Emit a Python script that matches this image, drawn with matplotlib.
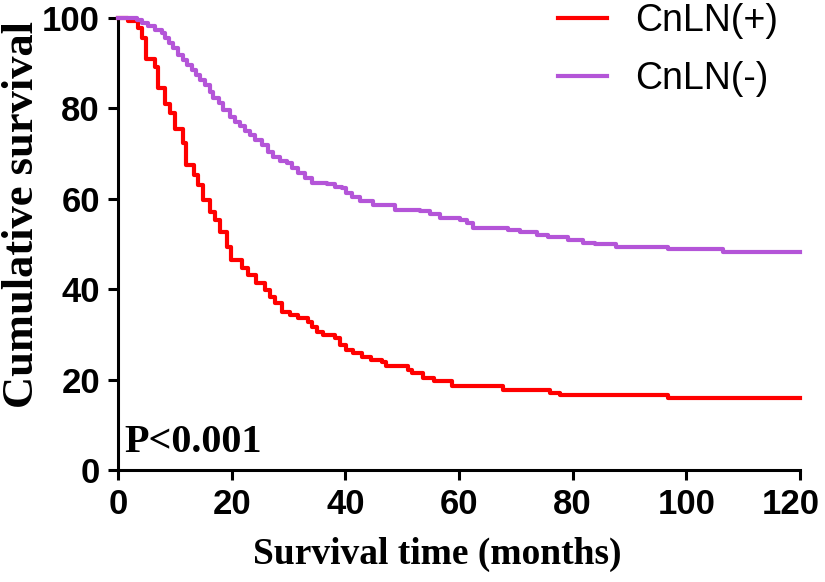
import numpy as np
import matplotlib
matplotlib.use('Agg')
import matplotlib.pyplot as plt
import matplotlib.transforms as mtransforms

# survival curves (months, % surviving)
pos_time = [0, 1.8, 3.5, 4.2, 5.0, 6.5, 7.1, 8.3, 9.2, 10.0,
            11.5, 12.0, 13.3, 14.1, 15.0, 16.1, 17.1, 17.9, 19.1, 19.8,
            21.8, 22.9, 24.2, 25.9, 26.7, 27.6, 28.8, 30.3, 31.7, 33.5,
            34.1, 35.0, 36.1, 38.2, 39.1, 40.2, 41.4, 42.9, 44.6, 46.4,
            47.2, 51.0, 51.8, 53.7, 55.6, 58.7, 67.8, 76.0, 77.8, 96.8,
            120]
pos_surv = [100, 99.3, 97.8, 95.5, 91.0, 89.2, 84.5, 81.0, 79.0, 75.5,
            72.3, 67.5, 65.3, 63.0, 59.7, 57.1, 55.3, 52.7, 49.4, 46.5,
            44.6, 43.1, 41.3, 39.8, 38.3, 36.9, 35.0, 34.3, 33.6, 32.8,
            31.7, 30.6, 29.9, 29.1, 27.7, 26.6, 25.8, 25.1, 24.4, 24.0,
            22.9, 22.1, 21.4, 20.4, 19.6, 18.6, 17.8, 17.1, 16.6, 15.9,
            15.9]

neg_time = [0, 3.3, 4.2, 5.3, 6.5, 7.7, 8.3, 8.9, 9.7, 10.6,
            11.5, 12.1, 13.0, 13.8, 14.4, 15.3, 16.2, 16.8, 17.7, 18.5,
            19.7, 20.6, 21.5, 22.3, 23.2, 24.1, 25.3, 26.4, 27.3, 28.5,
            29.7, 30.6, 31.7, 32.9, 34.1, 36.7, 38.2, 39.4, 40.2, 41.1,
            42.6, 44.9, 48.7, 53.1, 54.9, 56.7, 60.2, 61.4, 62.5, 68.7,
            70.7, 73.7, 75.7, 79.2, 81.9, 83.9, 87.7, 96.8, 106.5, 120]
neg_surv = [100, 99.6, 98.8, 98.2, 97.3, 96.6, 95.5, 94.4, 93.3, 91.8,
            90.7, 89.6, 88.5, 87.4, 86.3, 85.2, 83.7, 82.2, 81.1, 79.6,
            78.2, 77.1, 76.0, 75.1, 74.1, 73.0, 71.9, 70.4, 69.2, 68.4,
            67.9, 66.9, 65.6, 64.5, 63.6, 63.3, 62.7, 62.3, 61.2, 60.3,
            59.6, 58.6, 57.5, 57.2, 56.6, 55.8, 55.3, 54.6, 53.6, 53.2,
            52.7, 52.0, 51.5, 50.9, 50.3, 49.9, 49.4, 48.9, 48.3, 48.3]

labels = ['CnLN(+)', 'CnLN(-)']
colors = ['#ff0000', '#b455d8']
xticks = [0, 20, 40, 60, 80, 100, 120]
yticks = [0, 20, 40, 60, 80, 100]

fig = plt.figure(figsize=(8.25, 5.82), dpi=100)
ax = fig.add_axes([118/825, 112/582, 682/825, 452/582])

ax.step(pos_time, pos_surv, where='post', color=colors[0], lw=3, label=labels[0], clip_on=False, zorder=3)
ax.step(neg_time, neg_surv, where='post', color=colors[1], lw=3, label=labels[1], clip_on=False, zorder=3)

ax.set_xlim(0, 120)
ax.set_ylim(0, 100)
ax.set_xticks(xticks)
ax.set_yticks(yticks)
ax.spines['top'].set_visible(False)
ax.spines['right'].set_visible(False)
for s in ['left', 'bottom']:
    ax.spines[s].set_linewidth(2.2)
ax.tick_params(direction='out', length=7, width=2.2, pad=6)
for lab in ax.get_xticklabels() + ax.get_yticklabels():
    lab.set_fontfamily('Liberation Sans')
    lab.set_fontweight('bold')
    lab.set_fontsize(25)
# last x label sits a little left so it stays inside the picture
last = ax.get_xticklabels()[-1]
last.set_transform(last.get_transform() + mtransforms.ScaledTranslation(-9/100, 0, fig.dpi_scale_trans))

ax.set_xlabel('Survival time (months)', fontfamily='Liberation Serif', fontweight='bold', fontsize=27)
ax.set_ylabel('Cumulative survival', fontfamily='Liberation Serif', fontweight='bold', fontsize=32)
ax.xaxis.set_label_coords(0.468, -0.148)
ax.yaxis.set_label_coords(-0.112, 0.566)

ax.text(1.2, 4, 'P<0.001', fontfamily='Liberation Serif', fontweight='bold', fontsize=29, va='baseline')

fig.legend(loc='center left', bbox_to_anchor=(558/825, 1 - 50/582), frameon=False,
           borderpad=0, borderaxespad=0, handlelength=1.3, handletextpad=0.75, labelspacing=0.6,
           prop={'family': 'Liberation Sans', 'size': 27})

fig.savefig('out.png', dpi=100)
